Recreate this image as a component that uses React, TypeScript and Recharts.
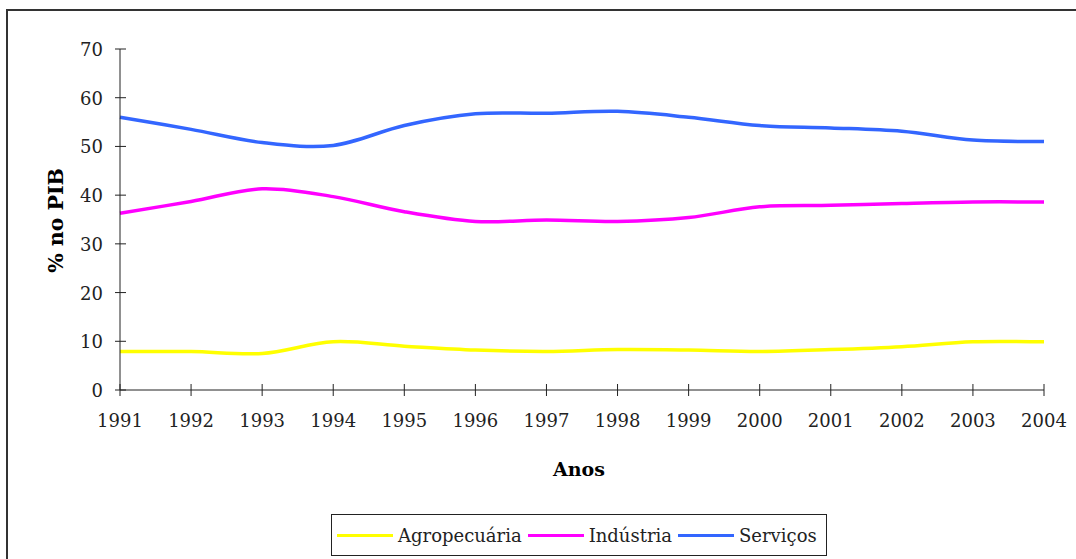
import React from "react";
import { LineChart, Line, XAxis, YAxis, Legend } from "recharts";

const years = [1991, 1992, 1993, 1994, 1995, 1996, 1997, 1998, 1999, 2000, 2001, 2002, 2003, 2004];
const agropecuaria = [7.9, 7.9, 7.5, 9.9, 9.0, 8.2, 7.9, 8.3, 8.2, 7.9, 8.3, 8.9, 9.9, 9.9];
const industria = [36.3, 38.7, 41.3, 39.7, 36.6, 34.6, 34.9, 34.6, 35.4, 37.6, 37.9, 38.3, 38.6, 38.6];
const servicos = [56.0, 53.5, 50.8, 50.2, 54.3, 56.7, 56.8, 57.2, 56.0, 54.3, 53.8, 53.1, 51.3, 51.0];
const yTicks = [0, 10, 20, 30, 40, 50, 60, 70];

const series = [
  { key: "agro", name: "Agropecuária", color: "#FFFF00" },
  { key: "ind", name: "Indústria", color: "#FF00FF" },
  { key: "serv", name: "Serviços", color: "#3366FF" },
];

const data = years.map((y, i) => ({
  year: y,
  agro: agropecuaria[i],
  ind: industria[i],
  serv: servicos[i],
}));

const FONT = "DejaVu Serif, serif";
const INK = "#222";

// Excel-style smoothed line (Catmull-Rom through the points)
function excelSmooth(context: any) {
  let pts: number[][] = [];
  return {
    areaStart() {},
    areaEnd() {},
    lineStart() { pts = []; },
    point(x: number, y: number) { pts.push([+x, +y]); },
    lineEnd() {
      if (!pts.length) return;
      context.moveTo(pts[0][0], pts[0][1]);
      for (let i = 0; i < pts.length - 1; i++) {
        const p0 = pts[i - 1] || pts[i];
        const p1 = pts[i];
        const p2 = pts[i + 1];
        const p3 = pts[i + 2] || p2;
        context.bezierCurveTo(
          p1[0] + (p2[0] - p0[0]) / 6, p1[1] + (p2[1] - p0[1]) / 6,
          p2[0] - (p3[0] - p1[0]) / 6, p2[1] - (p3[1] - p1[1]) / 6,
          p2[0], p2[1],
        );
      }
    },
  };
}

const XTick = ({ x, y, payload }: any) => (
  <g>
    <line x1={x} x2={x} y1={y - 6} y2={y + 6} stroke={INK} strokeWidth={1} />
    <text x={x} y={y + 37} textAnchor="middle" style={{ fontFamily: FONT, fontSize: 18 }} fill={INK}>
      {payload.value}
    </text>
  </g>
);

const YTick = ({ x, y, payload }: any) => (
  <g>
    <line x1={x - 5} x2={x + 6} y1={y} y2={y} stroke={INK} strokeWidth={1} />
    <text x={x - 17} y={y + 7} textAnchor="end" style={{ fontFamily: FONT, fontSize: 18 }} fill={INK}>
      {payload.value}
    </text>
  </g>
);

const LegendBox = () => (
  <div style={{
    border: "1.5px solid #222", background: "#fff", height: 42, boxSizing: "border-box",
    display: "flex", alignItems: "center", padding: "0 0 0 5px",
    fontFamily: FONT, fontSize: 18, color: INK, whiteSpace: "nowrap",
  }}>
    {series.map(s => (
      <span key={s.key} style={{ display: "inline-flex", alignItems: "center", marginRight: 6 }}>
        <span style={{ display: "inline-block", width: 56, height: 3, background: s.color, marginRight: 5 }} />
        {s.name}
      </span>
    ))}
  </div>
);

export default function App() {
  return (
    <div style={{ position: "fixed", left: 0, top: 0, width: 1076, height: 559, overflow: "hidden", background: "#fff" }}>
      <div style={{ position: "absolute", left: 6, top: 9, width: 1200, height: 700, border: "2px solid #333" }} />
      <div style={{ position: "absolute", left: 0, top: 0 }}>
        <LineChart width={1076} height={559} data={data} margin={{ top: 49, right: 32, bottom: 0, left: 0 }}>
          <XAxis
            dataKey="year"
            height={169}
            interval={0}
            tickSize={0}
            tickMargin={0}
            tickLine={false}
            axisLine={{ stroke: INK }}
            tick={<XTick />}
            label={(p: any) => {
              const vb = p.viewBox;
              return (
                <text x={vb.x + vb.width / 2 - 3} y={vb.y + 86} textAnchor="middle"
                  style={{ fontFamily: FONT, fontSize: 19, fontWeight: "bold" }} fill="#000">Anos</text>
              );
            }}
          />
          <YAxis
            width={120}
            domain={[0, 70]}
            ticks={yTicks}
            interval={0}
            tickSize={0}
            tickMargin={0}
            tickLine={false}
            axisLine={{ stroke: INK }}
            tick={<YTick />}
            label={(p: any) => {
              const vb = p.viewBox;
              const cy = vb.y + vb.height / 2 + 1;
              return (
                <text x={63} y={cy} textAnchor="middle" transform={`rotate(-90, 63, ${cy})`}
                  style={{ fontFamily: FONT, fontSize: 20.5, fontWeight: "bold" }} fill="#000">% no PIB</text>
              );
            }}
          />
          {series.map(s => (
            <Line key={s.key} dataKey={s.key} name={s.name} stroke={s.color} strokeWidth={3.5}
              dot={false} activeDot={false} type={excelSmooth as any} isAnimationActive={false} />
          ))}
          <Legend
            layout="horizontal"
            align="center"
            verticalAlign="middle"
            wrapperStyle={{ left: 331, top: 514, width: 496, height: 42 }}
            content={() => <LegendBox />}
          />
        </LineChart>
      </div>
    </div>
  );
}
